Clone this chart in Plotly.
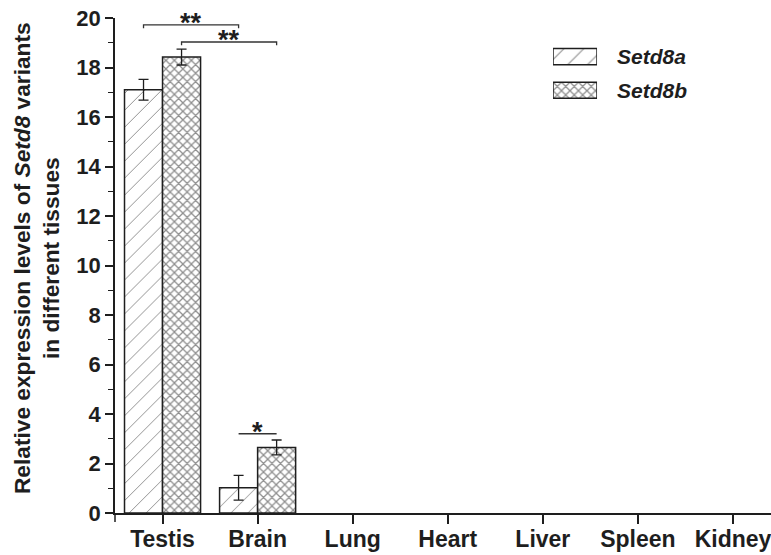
import plotly.graph_objects as go

tissues = ["Testis", "Brain", "Lung", "Heart", "Liver", "Spleen", "Kidney"]
setd8a = [17.1, 1.02, 0, 0, 0, 0, 0]
setd8a_err = [0.42, 0.5, 0, 0, 0, 0, 0]
setd8b = [18.42, 2.65, 0, 0, 0, 0, 0]
setd8b_err = [0.32, 0.3, 0, 0, 0, 0, 0]
series_names = ["Setd8a", "Setd8b"]
y_ticks = list(range(0, 21, 2))

# significance brackets: (tissue_i, series_i, tissue_j, series_j, height, label, end_ticks)
sig = [
    (0, 0, 1, 0, 19.72, "**", True),
    (0, 1, 1, 1, 19.03, "**", True),
    (1, 0, 1, 1, 3.2, "*", False),
]

FONT = "Arial, 'Liberation Sans', sans-serif"
INK = "#1e1e1e"
offset = 0.2
PAT_A = dict(shape="/", size=12, solidity=0.08)
PAT_B = dict(shape="x", size=6, solidity=0.38)


def shown(vals):
    # undetectable (zero) levels draw no bar in the figure
    return [v if v > 0 else None for v in vals]


fig = go.Figure()
fig.add_trace(go.Bar(
    x=tissues, y=shown(setd8a), name=series_names[0], showlegend=False,
    marker=dict(color="white", line=dict(color=INK, width=1.5),
                pattern=dict(fgcolor=INK, bgcolor="white", **PAT_A)),
    error_y=dict(type="data", array=setd8a_err, color=INK, thickness=1.3, width=5),
))
fig.add_trace(go.Bar(
    x=tissues, y=shown(setd8b), name=series_names[1], showlegend=False,
    marker=dict(color="white", line=dict(color=INK, width=1.5),
                pattern=dict(fgcolor=INK, bgcolor="white", **PAT_B)),
    error_y=dict(type="data", array=setd8b_err, color=INK, thickness=1.3, width=5),
))

# legend swatches drawn as bars on a small hidden subplot
fig.add_trace(go.Bar(
    y=series_names, x=[1, 1], orientation="h", width=0.48, showlegend=False,
    xaxis="x2", yaxis="y2", hoverinfo="skip",
    marker=dict(color="white", line=dict(color=INK, width=1.5),
                pattern=dict(fgcolor=INK, bgcolor="white",
                             shape=[PAT_A["shape"], PAT_B["shape"]],
                             size=[14, 6], solidity=[0.08, 0.38])),
))
for nm in series_names:
    fig.add_annotation(x=1, y=nm, xref="x2", yref="y2", text=f"<b><i>{nm}</i></b>",
                       showarrow=False, xanchor="left", xshift=18,
                       font=dict(family=FONT, size=21, color=INK))

for (ti, si, tj, sj, h, lab, ends) in sig:
    x0 = ti + (-offset if si == 0 else offset)
    x1 = tj + (-offset if sj == 0 else offset)
    if ends:
        fig.add_shape(type="path", xref="x", yref="y",
                      path=f"M {x0},{h-0.13} L {x0},{h} L {x1},{h} L {x1},{h-0.13}",
                      line=dict(color="#333", width=1.3))
    else:
        fig.add_shape(type="line", xref="x", yref="y", x0=x0, x1=x1, y0=h, y1=h,
                      line=dict(color="#333", width=1.6))
    fig.add_annotation(x=(x0 + x1) / 2, y=h, xref="x", yref="y", text=f"<b>{lab}</b>",
                       showarrow=False, yanchor="middle", yshift=2,
                       font=dict(family=FONT, size=27, color=INK))

# y-axis line extends slightly below zero
fig.add_shape(type="line", xref="paper", yref="paper", x0=0, x1=0, y0=0, y1=-0.018,
              line=dict(color=INK, width=1.5))

# y-axis title
fig.add_annotation(xref="paper", yref="paper", x=-0.119, y=0.515, textangle=-90,
                   text="<b>Relative expression levels of <i>Setd8</i> variants<br>in different tissues</b>",
                   showarrow=False, xanchor="center", yanchor="middle",
                   font=dict(family=FONT, size=22.7, color=INK))

fig.update_layout(
    width=771, height=555,
    margin=dict(l=115, r=0, t=18, b=42),
    paper_bgcolor="white", plot_bgcolor="white",
    barmode="group", bargap=0.2, bargroupgap=0,
    font=dict(family=FONT, color=INK),
    showlegend=False,
    xaxis=dict(
        type="category", range=[-0.5, 6.4], automargin=False,
        showline=True, linecolor=INK, linewidth=1.5,
        ticks="outside", ticklen=9, tickwidth=1.5, tickcolor=INK,
        ticklabelstandoff=-4,
        tickfont=dict(family=FONT, size=23, color=INK, weight="bold"),
        showgrid=False, zeroline=False,
    ),
    yaxis=dict(
        range=[0, 20], tickvals=y_ticks, automargin=False,
        showline=True, linecolor=INK, linewidth=1.5,
        ticks="outside", ticklen=8, tickwidth=1.5, tickcolor=INK,
        minor=dict(ticks="outside", ticklen=5, dtick=1, tickwidth=1.3, tickcolor=INK),
        tickfont=dict(family=FONT, size=22, color=INK, weight="bold"),
        showgrid=False, zeroline=False,
    ),
    xaxis2=dict(domain=[0.6677, 0.7348], anchor="y2", range=[0, 1], visible=False,
                fixedrange=True),
    yaxis2=dict(domain=[0.82, 0.956], anchor="x2", type="category",
                categoryorder="array", categoryarray=series_names[::-1],
                range=[-0.5, 1.5], visible=False, fixedrange=True),
)

fig.write_html("out.html", config={"displayModeBar": False},
               post_script="document.body.style.margin='0px';")
